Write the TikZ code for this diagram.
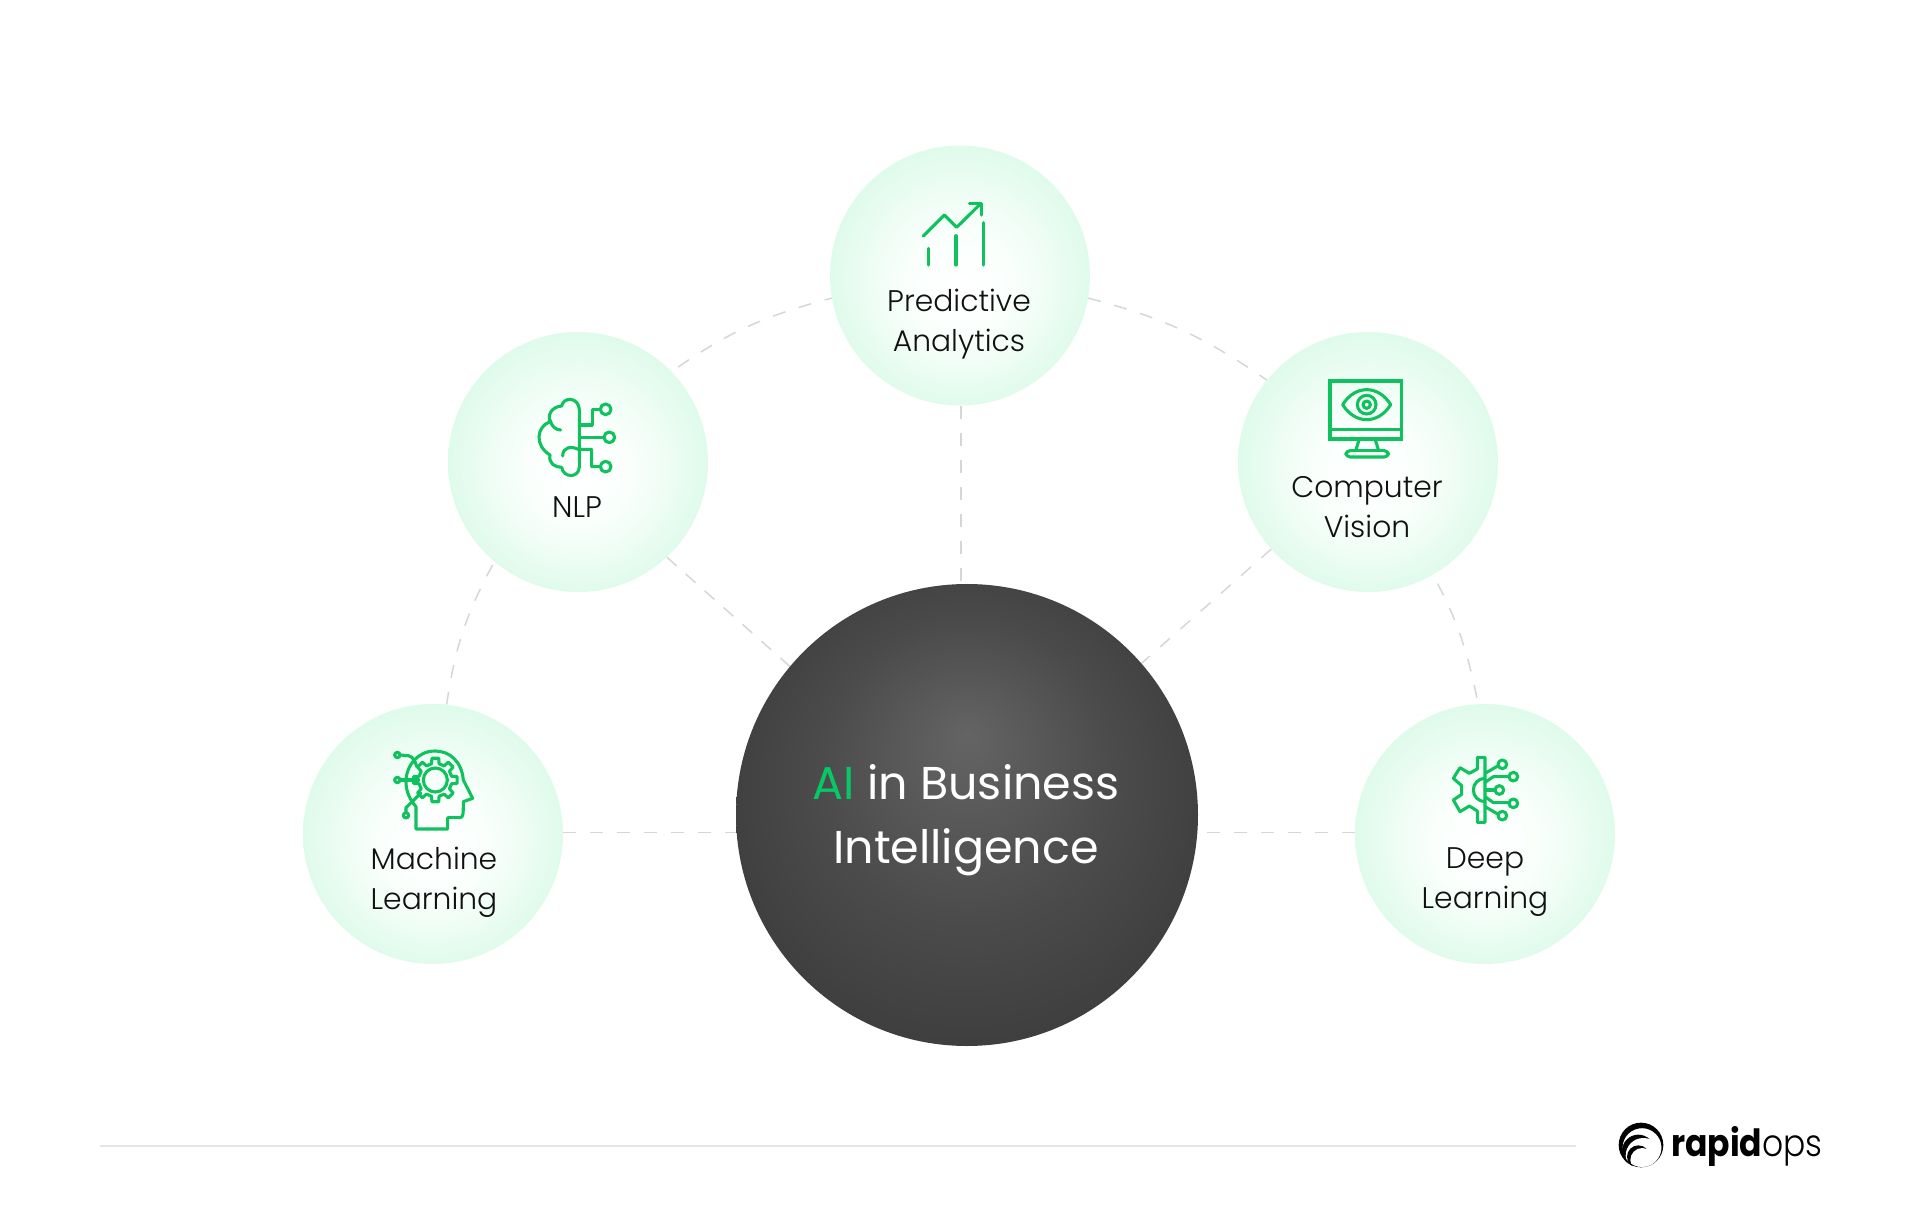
\documentclass[tikz,border=0pt]{standalone}
\usepackage{fontspec}
\setmainfont{Poppins}[UprightFont=* Light,BoldFont=* SemiBold]
\newfontfamily\midfont{Poppins}
\newfontfamily\logobold{Poppins}[UprightFont=* Bold,FakeStretch=0.88]
\newfontfamily\logolight{Poppins}[UprightFont=* Light,FakeStretch=0.88]
\definecolor{iconG}{HTML}{10C25E}
\definecolor{aiG}{HTML}{06C865}
\definecolor{mintZ}{HTML}{FAFFFC}
\definecolor{mintA}{HTML}{EDFDF4}
\definecolor{mintB}{HTML}{DBFAE9}
\definecolor{darkA}{HTML}{646464}
\definecolor{darkB}{HTML}{4B4B4B}
\definecolor{darkD}{HTML}{3F3F3F}
\definecolor{darkC}{HTML}{303030}
\definecolor{dashG}{HTML}{D6D6D6}
\definecolor{inkT}{HTML}{111111}
\pgfdeclarelayer{back}
\pgfsetlayers{back,main}
\pgfdeclareradialshading{softgreen}{\pgfpoint{0bp}{-3bp}}{color(0bp)=(white); color(10bp)=(mintZ); color(18bp)=(mintA); color(27bp)=(mintB)}
\pgfdeclareradialshading{softdark}{\pgfpoint{0bp}{8.7bp}}{color(0bp)=(darkA); color(16bp)=(darkB); color(26.5bp)=(darkD); color(34bp)=(darkC)}
\tikzset{
  topic/.style={circle,minimum size=260pt,inner sep=0pt,shading=softgreen},
  hub/.style={circle,minimum size=462pt,inner sep=0pt,shading=softdark},
  lab/.style={font=\fontsize{29.8}{40}\selectfont,text=inkT,align=center,inner sep=0pt},
  hublab/.style={font=\midfont\fontsize{46}{64}\selectfont,text=white,align=center,inner sep=0pt},
  link/.style={draw=dashG,line width=1.5pt,dash pattern=on 13pt off 14pt},
  ico/.style={draw=iconG,line width=3.1pt,line cap=round,line join=round,fill=none},
  zoomed/.style={x=0.33333pt,y=-0.33333pt},
}
\begin{document}
\begin{tikzpicture}[x=1pt,y=-1pt]
\useasboundingbox (0,0) rectangle (1920,1230);
\node[topic] (top) at (960,275.5) {};
\node[topic] (nlp) at (578,462) {};
\node[topic] (cv) at (1368,462) {};
\node[topic] (ml) at (433,834) {};
\node[topic] (dl) at (1485,834) {};
\node[hub] (hub) at (967,815) {};
\node[lab] (ltop) at (959,324.5) {Predictive\\Analytics};
\node[lab] (lnlp) at (577,507) {NLP};
\node[lab] (lcv) at (1367,507) {Computer\\Vision};
\node[lab] (lml) at (434,882.5) {Machine\\Learning};
\node[lab] (ldl) at (1485,882.5) {Deep\\Learning};
\node[hublab] (lhub) at (966,820) {\textcolor{aiG}{AI} in Business\\Intelligence};
\coordinate (mlp) at ([yshift=1.5pt]ml.east);
\coordinate (dlp) at ([yshift=1.5pt]dl.west);
\begin{pgfonlayer}{back}
\draw[link,shorten <=8pt] (nlp.44) to[bend left=10] (top.190);
\draw[link] (top.350) to[bend left=10] (cv.141);
\draw[link] (ml.84) to[bend left=10] (nlp.230);
\draw[link,shorten <=10pt] (cv.300) to[bend left=8] (dl.93);
\draw[link] ([xshift=1pt]top.south) -- ([xshift=1pt]top.south |- hub.north);
\draw[link,dash pattern=on 13pt off 12.3pt] (nlp.-47) -- (hub.140);
\draw[link] (cv.222) -- (hub.41);
\draw[link] (mlp) -- (mlp -| hub.west);
\draw[link] (dlp) -- (dlp -| hub.east);
\end{pgfonlayer}
% chart
\begin{scope}[shift={(880,170)},zoomed]
\draw[ico] (130,198) -- (193,135) -- (230,172) -- (300,103);
\draw[ico] (268,100) -- (305,100) -- (305,135);
\draw[ico] (145,235) -- (145,285);
\draw[ico] (228,197) -- (228,285);
\draw[ico] (311,158) -- (311,285);
\end{scope}
% brain
\begin{scope}[shift={(510,380)},zoomed]
\draw[ico] (208,260) -- (208,88) .. controls (205,50) and (160,50) .. (155,78)
  .. controls (125,80) and (112,105) .. (120,125)
  .. controls (80,140) and (72,195) .. (120,225)
  .. controls (115,250) and (135,262) .. (155,262)
  .. controls (160,295) and (208,295) .. (208,260);
\draw[ico] (120,120) .. controls (125,140) and (138,150) .. (152,150);
\draw[ico] (158,228) .. controls (158,200) and (185,198) .. (205,208) -- (245,208) -- (245,260) -- (271,260);
\draw[ico] (287,260) circle[radius=16];
\draw[ico] (208,172) -- (282,172);
\draw[ico] (298,172) circle[radius=16];
\draw[ico] (208,135) -- (247,135) -- (247,88) -- (271,88);
\draw[ico] (287,88) circle[radius=16];
\end{scope}
% monitor
\begin{scope}[shift={(1300,360)},zoomed]
\draw[ico,line cap=butt,line join=miter] (90,63) rectangle (305,237);
\draw[ico,line cap=butt] (90,208) -- (305,208);
\draw[ico] (178,237) -- (167,272);
\draw[ico] (225,237) -- (236,272);
\draw[ico,rounded corners=4pt] (138,272) rectangle (265,291);
\draw[ico] (128,134) .. controls (165,74) and (235,74) .. (272,134) .. controls (235,194) and (165,194) .. (128,134) -- cycle;
\draw[ico] (200,134) circle[radius=28];
\draw[ico] (200,134) circle[radius=11];
\end{scope}
% head with gear
\begin{scope}[shift={(380,735)},zoomed]
\draw[ico] (108,215) -- (108,282) -- (203,282) -- (203,248) -- (240,248) .. controls (250,248) and (250,235) .. (250,200) -- (278,190) -- (250,135)
  .. controls (245,80) and (210,48) .. (165,48) .. controls (115,48) and (78,90) .. (78,140) .. controls (78,170) and (90,195) .. (108,215);
\begin{scope}[shift={(166,135)}]
\draw[ico] (0,0) circle[radius=36];
\draw[ico] (-13:50) \foreach \a in {0,45,...,315}{ -- (\a-13:50) -- (\a-9:66) -- (\a+9:66) -- (\a+13:50) } -- cycle;
\end{scope}
\draw[ico] (52,60) circle[radius=8];
\draw[ico] (60,60) -- (85,62) .. controls (100,65) and (106,80) .. (110,95);
\draw[ico] (52,135) circle[radius=8];
\draw[ico] (60,135) -- (116,135);
\draw[ico] (78,241) circle[radius=8];
\draw[ico] (78,233) -- (78,218) -- (122,175);
\end{scope}
% gear circuit
\begin{scope}[shift={(1430,745)},zoomed]
\draw[ico] (165,37) -- (142,37) -- (142,72) -- (118,85) -- (90,68) -- (70,100) -- (95,122) -- (95,148) -- (70,165) -- (90,200) -- (118,183) -- (142,198) -- (142,232) -- (165,232) -- cycle;
\draw[ico] (165,100) arc[start angle=-90,end angle=-270,radius=35];
\draw[ico] (165,85) -- (205,62);
\draw[ico] (217,58) circle[radius=13];
\draw[ico] (165,112) -- (190,95) -- (237,95);
\draw[ico] (250,95) circle[radius=13];
\draw[ico] (165,135) -- (195,135);
\draw[ico] (208,135) circle[radius=13];
\draw[ico] (165,155) -- (190,173) -- (237,173);
\draw[ico] (250,175) circle[radius=13];
\draw[ico] (165,185) -- (205,208);
\draw[ico] (217,212) circle[radius=13];
\end{scope}
% footer rule
\coordinate (ruleA) at (100,1146);
\coordinate (ruleB) at (1576,1146);
\draw[line width=2pt,draw=black!10] (ruleA) -- (ruleB);
% logo
\begin{scope}[shift={(1610,1115)},zoomed]
\fill[black] (85,108) circle[radius=49];
\fill[white] (100,122) circle[radius=53];
\fill[black] (85,125) circle[radius=34];
\fill[white] (97,135) circle[radius=36];
\fill[black,even odd rule] (93,90) circle[radius=67] (96,98) circle[radius=58.5];
\end{scope}
\node[anchor=base west,inner sep=0pt,font=\fontsize{37.5}{40}\selectfont,text=black] (logo) at (1671,1156) {{\logobold rapid}{\logolight ops}};
\end{tikzpicture}
\end{document}
